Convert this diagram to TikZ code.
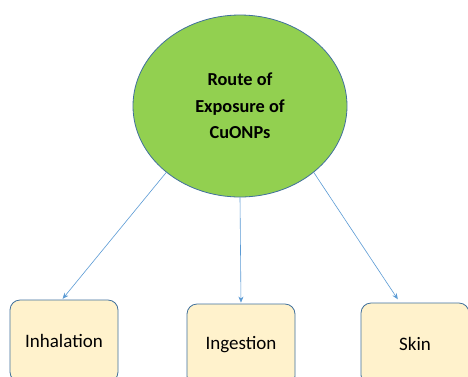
\documentclass[tikz,border=0pt]{standalone}
\usepackage{fontspec}
\setmainfont{Carlito}
\usetikzlibrary{shapes.geometric,arrows.meta}
\definecolor{ellfill}{HTML}{92D050}
\definecolor{ellline}{HTML}{41719C}
\definecolor{boxfill}{HTML}{FFF2CC}
\definecolor{boxline}{HTML}{41719C}
\definecolor{arr}{HTML}{5B9BD5}
\begin{document}
\begin{tikzpicture}[x=1pt,y=-1pt,
  hub/.style={ellipse,draw=ellline,fill=ellfill,line width=0.8pt,minimum width=214pt,minimum height=182pt,inner sep=0pt,align=center,font=\fontsize{18.3}{26.5}\selectfont\bfseries},
  leaf/.style={rectangle,rounded corners=10pt,draw=boxline,fill=boxfill,line width=0.8pt,minimum width=108pt,minimum height=82pt,inner sep=0pt,font=\fontsize{19}{22}\selectfont},
  link/.style={draw=arr,line width=0.6pt,-{Stealth[length=6pt,width=5pt]}}]
\useasboundingbox (0,0) rectangle (468,376);
\clip (0,0) rectangle (468,376);
\fill[white] (0,0) rectangle (468,376);
\node[hub] (root) at (240,106) {Route of\\Exposure of\\CuONPs};
\node[leaf] (inh) at (64,341) {Inhalation};
\node[leaf] (ing) at (241,345) {Ingestion};
\node[leaf] (skin) at (415,344) {Skin};
\draw[link,shorten >=1pt] (root.222) -- ([xshift=-2pt]inh.north);
\draw[link,shorten >=1pt] (root.south) -- (ing.north);
\draw[link,shorten >=4pt] (root.318) -- ([xshift=-15pt]skin.north);
\end{tikzpicture}
\end{document}
